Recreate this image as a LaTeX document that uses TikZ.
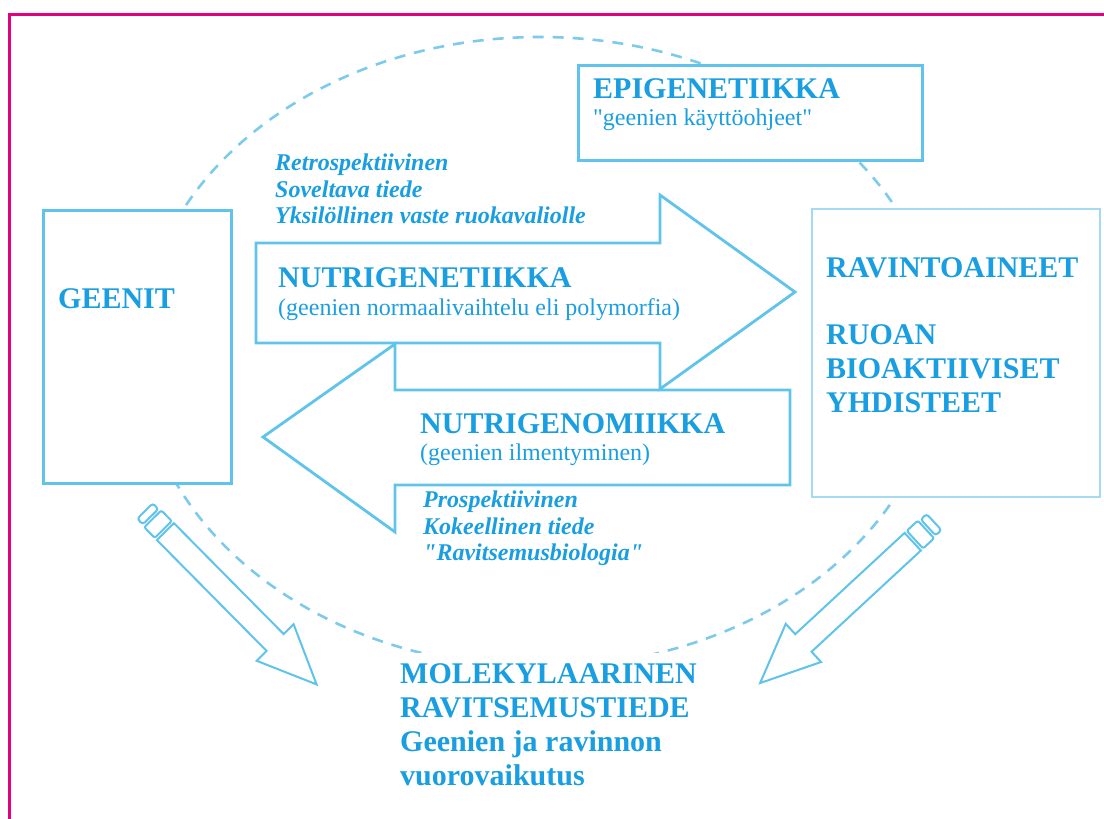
\documentclass[tikz,border=0pt]{standalone}
\usepackage{fontspec}
\setmainfont{Liberation Serif}[Ligatures=TeXOff]
\usepackage{tikz}
\usetikzlibrary{calc}
\usepackage{xcolor}
\definecolor{ngtext}{RGB}{25,158,225}
\definecolor{ngline}{RGB}{95,195,236}
\definecolor{ngpale}{RGB}{165,218,242}
\definecolor{ngdash}{RGB}{125,202,236}
\definecolor{ngframe}{RGB}{228,0,126}
\tikzset{
    ngbox/.style={draw=ngline,line width=3pt,fill=white,inner sep=0pt},
    ngpalebox/.style={ngbox,draw=ngpale,line width=2pt},
    ngarrow/.style={draw=ngline,line width=2.8pt},
    ngpen/.style={draw=ngline,line width=2pt,fill=white},
    ngring/.style={draw=ngdash,line width=2.6pt,dash pattern=on 11pt off 9pt},
    nghead/.style={text=ngtext,font=\fontsize{30}{34}\selectfont\bfseries,inner sep=0pt,align=left},
    ngsub/.style={text=ngtext,font=\fontsize{24}{28}\selectfont,inner sep=0pt},
    ngnote/.style={text=ngtext,font=\fontsize{24}{26.5}\selectfont\bfseries\itshape,inner sep=0pt,align=left}
}
\newcommand{\ngpencil}[3]{%
    \begin{scope}[shift={(#1)},rotate=#2]
        \draw[ngpen,rounded corners=3pt] (0,-11) rectangle (8,11);
        \draw[ngpen,rounded corners=2pt] (11,-12) rectangle (26,12);
        \draw[ngpen] (29,-12) -- ({#3-59},-12) -- ({#3-59},-26) -- (#3,0) -- ({#3-59},26) -- ({#3-59},12) -- (29,12) -- cycle;
    \end{scope}}

\begin{document}
\begin{tikzpicture}[x=1pt,y=-1pt]

    \useasboundingbox (0,0) rectangle (1104,819);
    \draw[ngframe,line width=3pt] (9.5,819) -- (9.5,14) -- (1104,14);

    \draw[ngring] (540,352) ellipse [x radius=400pt, y radius=315pt];

    \node[ngbox,minimum width=188pt,minimum height=273pt] (geenit) at (137,346.5) {};
    \node[ngpalebox,minimum width=288pt,minimum height=288pt] (ravinto) at (956,353) {};
    \node[ngbox,minimum width=344pt,minimum height=95pt] (epi) at (750,112.5) {};

    \draw[ngarrow] (256,243) -- (660,243) -- (660,195) -- (795,292) -- (660,389) -- (660,343) -- (256,343) -- cycle;
    \draw[ngarrow] (790,390) -- (395,390) -- (395,344) -- (263,437) -- (395,532) -- (395,485) -- (790,485) -- cycle;

    \coordinate (gtail) at (145,511);
    \coordinate (rtail) at (934,522);
    \ngpencil{gtail}{-45.3}{244}
    \ngpencil{rtail}{-137.2}{237}

    \node[nghead,anchor=base west] (geenittxt) at (58,308) {GEENIT};
    \node[nghead,anchor=north west] (ravintotxt) at (826,257) {RAVINTOAINEET\\[33pt]RUOAN\\BIOAKTIIVISET\\YHDISTEET};
    \node[nghead,anchor=base west] (epititle) at (593,98) {EPIGENETIIKKA};
    \node[ngsub,anchor=base west] (episub) at (593,125) {"geenien käyttöohjeet"};

    \node[nghead,anchor=base west] (ngettitle) at (278,287) {NUTRIGENETIIKKA};
    \node[ngsub,anchor=base west] (ngetsub) at (278,315) {(geenien normaalivaihtelu eli polymorfia)};
    \node[nghead,anchor=base west] (ngomtitle) at (420,433) {NUTRIGENOMIIKKA};
    \node[ngsub,anchor=base west] (ngomsub) at (420,460) {(geenien ilmentyminen)};

    \node[ngnote,anchor=north west] (retro) at (275,154) {Retrospektiivinen\\Soveltava tiede\\Yksilöllinen vaste ruokavaliolle};
    \node[ngnote,anchor=north west] (prosp) at (423,491) {Prospektiivinen\\Kokeellinen tiede\\"Ravitsemusbiologia"};

    \node[nghead,anchor=north west,fill=white,inner xsep=3pt,inner ysep=10pt] (molek) at (397,653) {MOLEKYLAARINEN\\RAVITSEMUSTIEDE\\Geenien ja ravinnon\\vuorovaikutus};

\end{tikzpicture}
\end{document}
